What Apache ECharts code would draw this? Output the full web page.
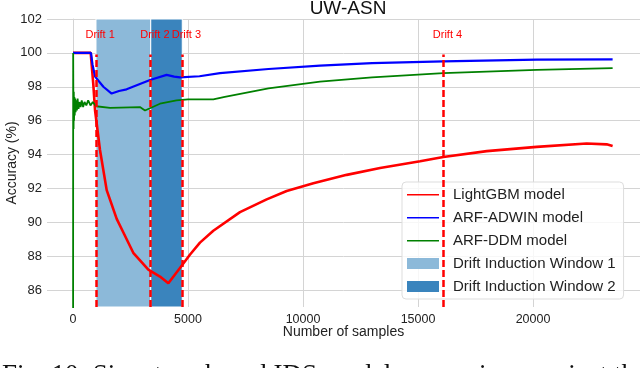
<!DOCTYPE html>
<html>
<head>
<meta charset="utf-8">
<script src="https://cdn.jsdelivr.net/npm/echarts@6/dist/echarts.min.js"></script>
<style>
  html, body { margin: 0; padding: 0; background: #fff; }
  #chart { width: 640px; height: 368px; }
</style>
</head>
<body>
<div id="chart"></div>
<script>
// values
const xTicks = [0, 5000, 10000, 15000, 20000];
const yTicks = [86, 88, 90, 92, 94, 96, 98, 100, 102];
const driftNames = ['Drift 1', 'Drift 2', 'Drift 3', 'Drift 4'];
const driftAt = [1000, 3380, 4750, 16100];
const window1 = [1000, 3380];
const window2 = [3380, 4750];

const lightgbm = [
    [0, 100], [770, 100], [800, 99.5], [880, 98.2], [960, 96.6], [1170, 94.3], [1465, 91.9],
    [1900, 90.2], [2190, 89.4], [2620, 88.2], [3275, 87.2], [3780, 86.8], [4145, 86.4],
    [4650, 87.3], [5090, 88.1], [5520, 88.8], [6100, 89.5], [7260, 90.6], [8420, 91.35],
    [9290, 91.85], [10450, 92.3], [11900, 92.8], [13350, 93.2], [15090, 93.6], [16100, 93.85],
    [17990, 94.2], [20160, 94.45], [22330, 94.65], [23200, 94.6], [23460, 94.5]
];
const arfAdwin = [
    [0, 100], [780, 100], [850, 99.3], [960, 98.6], [1320, 98.0], [1680, 97.6], [2000, 97.75],
    [2330, 97.85], [3350, 98.4], [4070, 98.7], [4400, 98.6], [4650, 98.55], [5500, 98.62],
    [6390, 98.8], [8500, 99.05], [10740, 99.25], [13000, 99.4], [16100, 99.5], [20160, 99.6],
    [23460, 99.62]
];
const arfDdm = [
    [0, 60], [8, 100], [15, 97.5], [25, 95.5], [35, 97.7], [45, 96.0], [60, 97.4], [75, 96.3],
    [95, 97.3], [115, 96.5], [140, 97.2], [170, 96.6], [200, 97.3], [240, 96.7], [280, 97.1],
    [330, 96.8], [380, 97.2], [440, 96.8], [500, 97.1], [580, 96.9], [660, 97.2], [760, 96.9],
    [860, 97.1], [1000, 96.85], [1610, 96.75], [2910, 96.8], [3130, 96.6], [3780, 97.0],
    [4500, 97.2], [5000, 97.25], [6100, 97.25], [6600, 97.4], [8500, 97.9], [10740, 98.3],
    [13000, 98.55], [16100, 98.8], [20160, 99.0], [23460, 99.1]
];

const chart = echarts.init(document.getElementById('chart'));
const font = 'Liberation Sans, Arial, sans-serif';
// thin line icon for the legend, padded with empty corners so it is not stretched
const lineIcon = 'path://M0,0 L0.01,0 L0,0.01 Z M0,5 L32,5 L32,6.4 L0,6.4 Z M32,11 L31.99,11 L32,10.99 Z';

const option = {
    backgroundColor: '#fff',
    animation: false,
    title: {
        text: 'UW-ASN', left: 343, top: -6, textAlign: 'center',
        textStyle: { fontFamily: font, fontSize: 19, fontWeight: 'normal', color: '#111' }
    },
    grid: { left: 47, right: 0, top: 19, bottom: 61, containLabel: false, outerBoundsMode: 'none' },
    legend: {
        orient: 'vertical', left: 402, top: 182,
        backgroundColor: 'rgba(255,255,255,0.8)', borderColor: '#ddd', borderWidth: 1, borderRadius: 4,
        padding: [5, 8, 5, 5], itemWidth: 32, itemHeight: 11, itemGap: 8,
        textStyle: { fontFamily: font, fontSize: 15, color: '#222', padding: [0, 0, 0, 9] },
        data: [
            { name: 'LightGBM model', icon: lineIcon },
            { name: 'ARF-ADWIN model', icon: lineIcon },
            { name: 'ARF-DDM model', icon: lineIcon },
            { name: 'Drift Induction Window 1', icon: 'rect' },
            { name: 'Drift Induction Window 2', icon: 'rect' }
        ]
    },
    xAxis: {
        type: 'value', min: -1130, max: 24650,
        name: 'Number of samples', nameLocation: 'middle', nameGap: 18, nameMoveOverlap: false,
        nameTextStyle: { fontFamily: font, fontSize: 14, color: '#222', verticalAlign: 'top' },
        axisLine: { show: false },
        axisTick: { show: false, customValues: xTicks },
        axisLabel: { customValues: xTicks, formatter: v => String(v), fontFamily: font, fontSize: 12.5, color: '#222', margin: 6 },
        splitLine: { show: true, lineStyle: { color: '#d4d4d4', width: 1 } }
    },
    yAxis: {
        type: 'value', min: 85, max: 102,
        name: 'Accuracy (%)', nameLocation: 'middle', nameGap: 28, nameMoveOverlap: false,
        nameTextStyle: { fontFamily: font, fontSize: 14, color: '#222' },
        axisLine: { show: true, lineStyle: { color: '#d4d4d4' } },
        axisTick: { show: false, customValues: yTicks },
        axisLabel: { customValues: yTicks, fontFamily: font, fontSize: 13, color: '#222', margin: 5 },
        splitLine: { show: true, lineStyle: { color: '#d4d4d4', width: 1 } }
    },
    series: [
        {
            name: 'Drift Induction Window 1', type: 'line', data: [], symbol: 'none',
            itemStyle: { color: '#8cb9d9' },
            markArea: {
                silent: true,
                itemStyle: { color: '#8cb9d9', borderColor: '#ffffff', borderWidth: 1 },
                data: [[{ xAxis: window1[0] }, { xAxis: window1[1] }]]
            }
        },
        {
            name: 'Drift Induction Window 2', type: 'line', data: [], symbol: 'none',
            itemStyle: { color: '#3a84bd' },
            markArea: {
                silent: true,
                itemStyle: { color: '#3a84bd', borderColor: '#ffffff', borderWidth: 1 },
                data: [[{ xAxis: window2[0] }, { xAxis: window2[1] }]]
            }
        },
        {
            name: 'LightGBM model', type: 'line', data: lightgbm, symbol: 'none', z: 3,
            lineStyle: { color: '#ff0000', width: 2.6 }, itemStyle: { color: '#ff0000' }
        },
        {
            name: 'ARF-ADWIN model', type: 'line', data: arfAdwin, symbol: 'none', z: 4,
            lineStyle: { color: '#0000ff', width: 2.2 }, itemStyle: { color: '#0000ff' }
        },
        {
            name: 'ARF-DDM model', type: 'line', data: arfDdm, symbol: 'none', z: 4,
            lineStyle: { color: '#008000', width: 1.8 }, itemStyle: { color: '#008000' }
        },
        {
            name: 'drifts', type: 'line', data: [], symbol: 'none', z: 5,
            markLine: {
                silent: true, symbol: 'none', label: { show: false },
                lineStyle: { color: '#ff0000', type: [7, 3], width: 2.5 },
                data: driftAt.map(d => [{ coord: [d, 85] }, { coord: [d, 99.9] }])
            },
            markPoint: {
                silent: true, symbol: 'circle', symbolSize: 0,
                label: { show: true, position: 'inside', color: '#ff0000', fontFamily: font, fontSize: 11,
                         formatter: p => p.name },
                data: driftAt.map((d, i) => ({ name: driftNames[i], coord: [d + 180, 101.05] }))
            }
        }
    ],
    graphic: [{
        type: 'text', left: 2, top: 362,
        style: { text: 'Fig. 10: Signature-based IDS model comparison against the', fill: '#111',
                 font: '27px "Liberation Serif", "Times New Roman", serif' }
    }]
};
chart.setOption(option);
</script>
</body>
</html>
